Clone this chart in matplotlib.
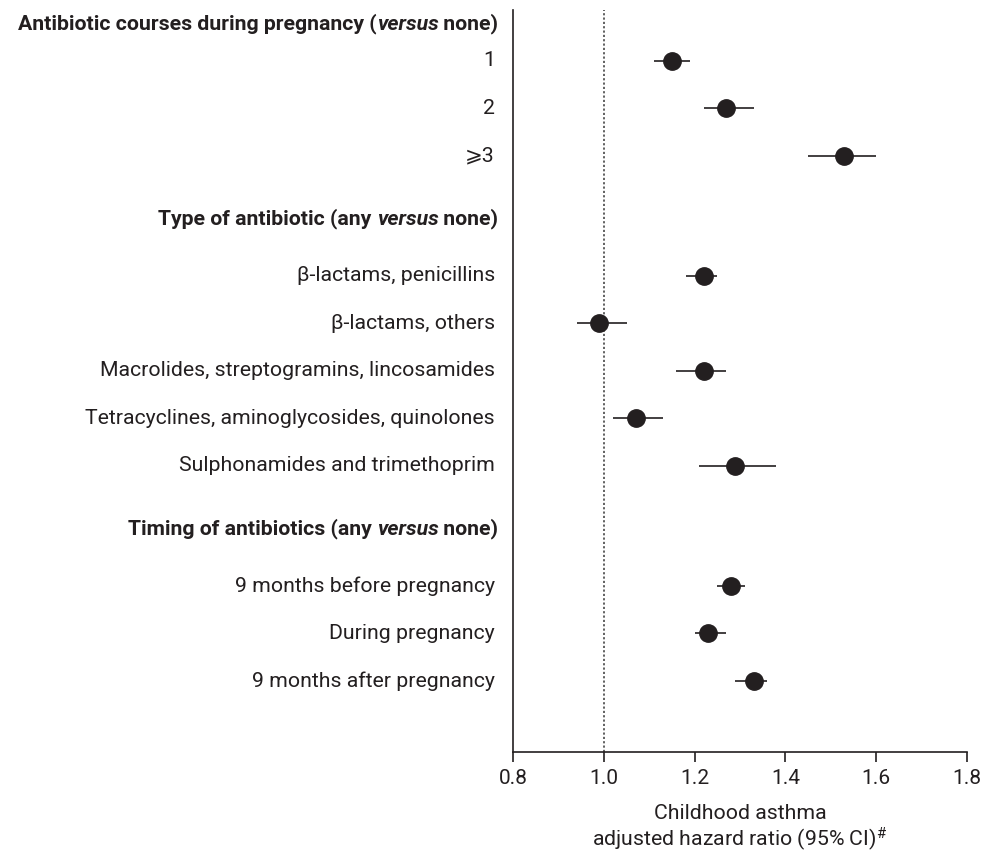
import matplotlib.pyplot as plt

plt.rcParams['font.family'] = ['Roboto', 'DejaVu Sans']
plt.rcParams['mathtext.fontset'] = 'custom'
plt.rcParams['mathtext.rm'] = 'Roboto'
plt.rcParams['mathtext.default'] = 'regular'

INK = '#231f20'
FS = 15.3

# group headers: text before the italic word, italic word, text after
head_pre = ['Antibiotic courses during pregnancy (', 'Type of antibiotic (any ',
            'Timing of antibiotics (any ']
head_it = ['versus', 'versus', 'versus']
head_post = [' none)', ' none)', ' none)']

courses_lab = ['1', '2', '\u2a7e3']
courses_hr = [1.15, 1.27, 1.53]
courses_lo = [1.11, 1.22, 1.45]
courses_hi = [1.19, 1.33, 1.60]

type_lab = ['\u03b2-lactams, penicillins', '\u03b2-lactams, others',
            'Macrolides, streptogramins, lincosamides',
            'Tetracyclines, aminoglycosides, quinolones',
            'Sulphonamides and trimethoprim']
type_hr = [1.22, 0.99, 1.22, 1.07, 1.29]
type_lo = [1.18, 0.94, 1.16, 1.02, 1.21]
type_hi = [1.25, 1.05, 1.27, 1.13, 1.38]

timing_lab = ['9 months before pregnancy', 'During pregnancy', '9 months after pregnancy']
timing_hr = [1.28, 1.23, 1.33]
timing_lo = [1.25, 1.20, 1.29]
timing_hi = [1.31, 1.27, 1.36]

xticks = [0.8, 1.0, 1.2, 1.4, 1.6, 1.8]

groups = [(courses_lab, courses_hr, courses_lo, courses_hi),
          (type_lab, type_hr, type_lo, type_hi),
          (timing_lab, timing_hr, timing_lo, timing_hi)]

fig = plt.figure(figsize=(9.97, 8.51), dpi=100)
ax = fig.add_axes([513 / 997, 99 / 851, 454 / 997, 742 / 851])

# layout in pixel-like units from the top
step = 47.5
first_gap = [37, 57, 57]
y = 24
label_x = -0.04
tr = ax.get_yaxis_transform()
for g, (labs, hr, lo, hi) in enumerate(groups):
    if g > 0:
        y += 63
    # header, built right to left
    t3 = ax.text(label_x + 0.008, y, head_post[g], transform=tr, ha='right', va='center',
                 fontsize=FS, fontweight='bold', color=INK)
    t2 = ax.annotate(head_it[g], xy=(0, 0), xycoords=t3, ha='right', va='bottom',
                     fontsize=FS, fontweight='bold', fontstyle='italic', color=INK)
    ax.annotate(head_pre[g], xy=(0, 0), xycoords=t2, ha='right', va='bottom',
                fontsize=FS, fontweight='bold', color=INK)
    y += first_gap[g]
    for i in range(len(labs)):
        if i > 0:
            y += step
        ax.text(label_x, y, labs[i], transform=tr, ha='right', va='center',
                fontsize=FS, color=INK)
        ax.plot([lo[i], hi[i]], [y, y], color=INK, lw=1.2, solid_capstyle='butt')
        ax.plot(hr[i], y, 'o', color=INK, ms=12.5)

ax.axvline(1.0, color='#555555', lw=1.3, ls=(0, (1.2, 1.2)), zorder=0)

ax.set_xlim(0.8, 1.8)
ax.set_ylim(752, 10)
ax.set_xticks(xticks)
ax.set_xticklabels(['%.1f' % v for v in xticks])
ax.set_yticks([])
for s in ['top', 'right']:
    ax.spines[s].set_visible(False)
for s in ['left', 'bottom']:
    ax.spines[s].set_color(INK)
    ax.spines[s].set_linewidth(1.2)
ax.tick_params(axis='x', direction='out', length=7, width=1.2, color=INK,
               labelsize=15, labelcolor=INK, pad=5)
ax.set_xlabel('Childhood asthma\nadjusted hazard ratio (95% CI)$^{\\#}$',
              fontsize=FS, color=INK, labelpad=12, linespacing=1.1)

fig.savefig('out.png', dpi=100)
